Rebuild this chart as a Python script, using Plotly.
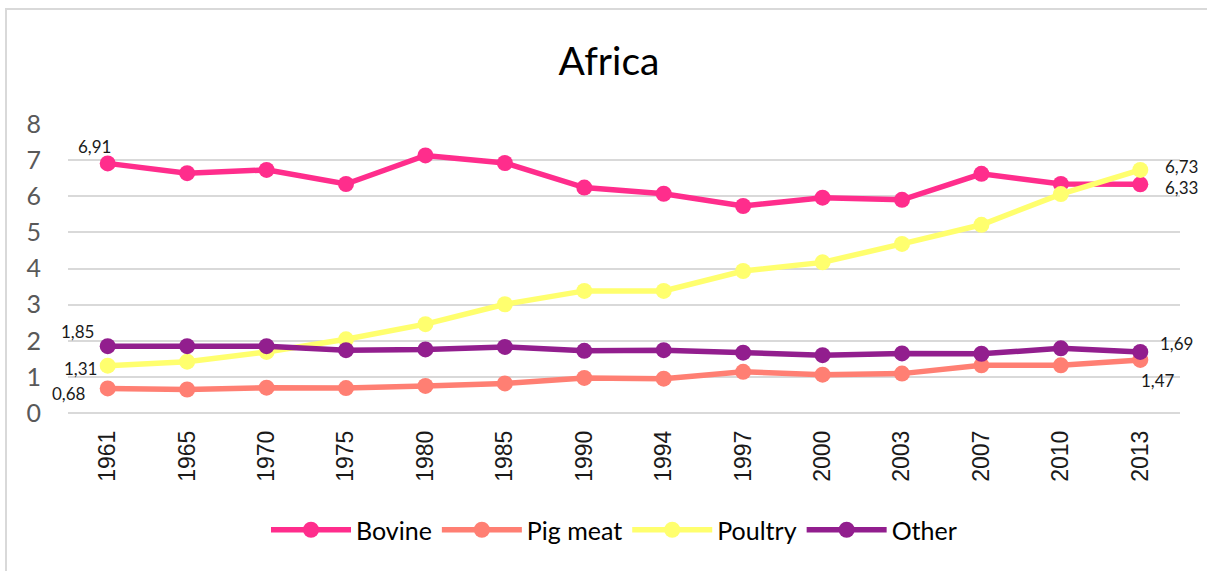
import plotly.graph_objects as go

# Meat supply per capita in Africa by type of meat
years = ["1961", "1965", "1970", "1975", "1980", "1985", "1990",
         "1994", "1997", "2000", "2003", "2007", "2010", "2013"]
bovine = [6.91, 6.64, 6.73, 6.34, 7.13, 6.92, 6.24, 6.07, 5.73, 5.96, 5.90, 6.62, 6.34, 6.33]
pig_meat = [0.68, 0.65, 0.70, 0.69, 0.75, 0.82, 0.97, 0.95, 1.14, 1.06, 1.09, 1.32, 1.32, 1.47]
poultry = [1.31, 1.42, 1.69, 2.04, 2.46, 3.01, 3.38, 3.38, 3.93, 4.17, 4.68, 5.21, 6.06, 6.73]
other = [1.85, 1.85, 1.85, 1.74, 1.76, 1.83, 1.72, 1.74, 1.67, 1.60, 1.65, 1.64, 1.79, 1.69]
y_ticks = [0, 1, 2, 3, 4, 5, 6, 7, 8]

series = [
    ("Bovine", bovine, "#FF2D8C"),
    ("Pig meat", pig_meat, "#FF7F73"),
    ("Poultry", poultry, "#FFFF6E"),
    ("Other", other, "#921E8E"),
]

W, H = 1207, 571
ML, MR, MT, MB = 68, 27, 124, 158
plot_w = W - ML - MR
plot_h = H - MT - MB

fig = go.Figure()
for name, vals, color in series:
    fig.add_trace(go.Scatter(
        x=years, y=vals, name=name, mode="lines+markers",
        line=dict(color=color, width=5.5),
        marker=dict(color=color, size=16),
    ))

def fmt(v):
    return f"{v:.2f}".replace(".", ",")

label_font = dict(family="Lato, sans-serif", size=17, color="#1a1a1a")
# value labels at the first year (x given as category index)
first_offsets = {"Bovine": (-13, 17), "Other": (-30, 15), "Poultry": (-27, -3), "Pig meat": (-39, -5)}
# value labels at the last year
last_offsets = {"Bovine": (41, -3), "Poultry": (41, 3), "Other": (36, 8), "Pig meat": (18, -21)}
last = len(years) - 1
for name, vals, color in series:
    dx, dy = first_offsets[name]
    fig.add_annotation(x=0, y=vals[0], text=fmt(vals[0]), showarrow=False,
                       xshift=dx, yshift=dy, font=label_font)
    dx, dy = last_offsets[name]
    fig.add_annotation(x=last, y=vals[-1], text=fmt(vals[-1]), showarrow=False,
                       xshift=dx, yshift=dy, font=label_font)

# outer chart frame
fig.add_shape(type="rect", xref="paper", yref="paper",
              x0=(6 - ML) / plot_w, x1=(W + 20 - ML) / plot_w,
              y0=-(H + 20 - (H - MB)) / plot_h, y1=(H - MB - 9) / plot_h,
              line=dict(color="#D9D9D9", width=2), fillcolor="rgba(0,0,0,0)", layer="below")

fig.update_layout(
    width=W, height=H,
    margin=dict(l=ML, r=MR, t=MT, b=MB),
    paper_bgcolor="white", plot_bgcolor="white",
    title=dict(text="Africa", x=609 / W, xanchor="center", y=1 - 61 / H, yanchor="middle",
               font=dict(family="Lato, sans-serif", size=39, color="#000000")),
    showlegend=True,
    legend=dict(orientation="h", x=(614 - ML) / plot_w, xanchor="center", y=-(530 - (H - MB)) / plot_h,
                yanchor="middle", font=dict(family="Lato, sans-serif", size=25, color="#000000"),
                itemwidth=80, tracegroupgap=0),
    xaxis=dict(type="category", range=[-0.5, len(years) - 0.5], tickangle=-90,
               showgrid=False, showline=False, zeroline=False, ticks="",
               tickfont=dict(family="Liberation Sans, Arial, sans-serif", size=23, color="#1a1a1a"),
               ticklabelstandoff=12),
    yaxis=dict(range=[0, 8], tickvals=y_ticks, showgrid=True, gridcolor="#D9D9D9", gridwidth=2,
               zeroline=True, zerolinecolor="#D9D9D9", zerolinewidth=2, showline=False, ticks="",
               tickfont=dict(family="Lato, sans-serif", size=25, color="#595959"),
               ticklabelstandoff=26),
)

fig.write_html("out.html")
